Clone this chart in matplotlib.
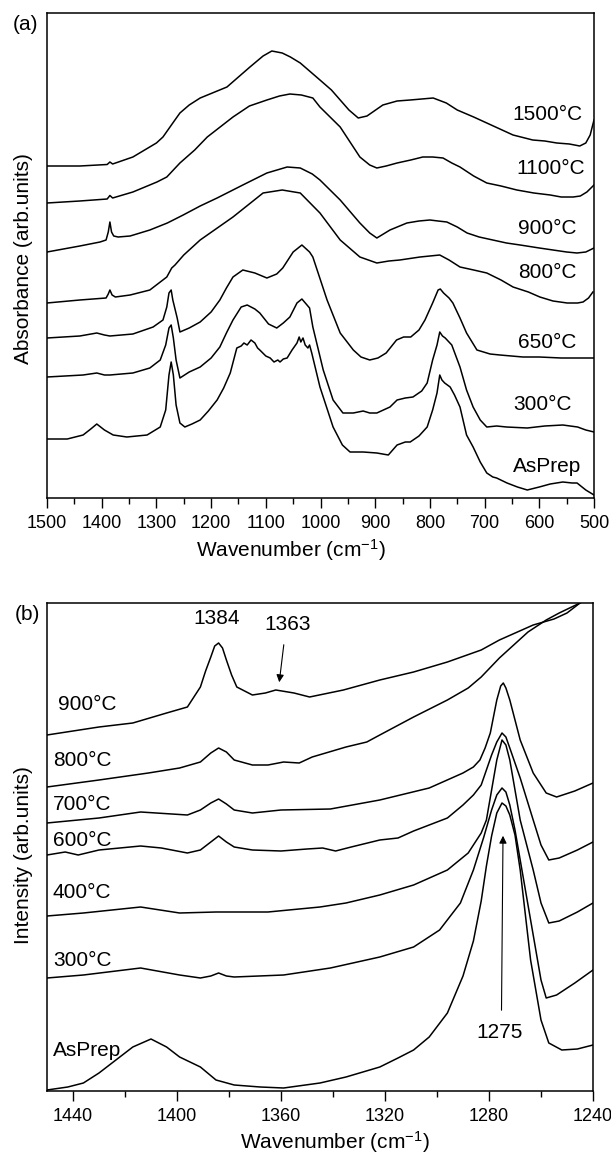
import matplotlib
matplotlib.use("Agg")
import matplotlib.pyplot as plt
from matplotlib.ticker import MultipleLocator

plt.rcParams['font.family'] = ['Liberation Sans', 'DejaVu Sans']
plt.rcParams['mathtext.fontset'] = 'custom'
plt.rcParams['mathtext.rm'] = 'Liberation Sans'
plt.rcParams['mathtext.default'] = 'regular'

# ---- panel (a): FTIR absorbance, 1500-500 cm-1 ----
wn_1500 = [1500, 1440, 1390, 1385, 1380, 1343, 1300, 1288, 1270, 1257, 1240, 1220, 1171, 1129, 1105,
           1089, 1070, 1055, 1037, 1001, 980, 964, 948, 931, 915, 886, 860, 836, 794, 770, 750, 720,
           696, 648, 612, 590, 568, 545, 526, 515, 507, 500]
a_1500 = [3.32, 3.32, 3.335, 3.36, 3.34, 3.41, 3.55, 3.61, 3.75, 3.85, 3.93, 4.00, 4.11, 4.31, 4.42,
          4.47, 4.45, 4.41, 4.35, 4.18, 4.08, 3.98, 3.88, 3.80, 3.82, 3.93, 3.97, 3.98, 4.00, 3.95, 3.88,
          3.81, 3.75, 3.63, 3.58, 3.57, 3.55, 3.54, 3.52, 3.55, 3.63, 3.78]

wn_1100 = [1500, 1440, 1390, 1385, 1380, 1343, 1299, 1281, 1257, 1230, 1207, 1160, 1130, 1098, 1075,
           1056, 1035, 1014, 1001, 964, 928, 910, 897, 880, 860, 835, 813, 795, 776, 760, 745, 720,
           696, 670, 641, 610, 580, 560, 538, 525, 513, 500]
a_1100 = [2.95, 2.97, 2.99, 3.025, 3.00, 3.06, 3.16, 3.21, 3.35, 3.48, 3.61, 3.81, 3.92, 3.98, 4.02,
          4.04, 4.03, 4.00, 3.91, 3.71, 3.41, 3.33, 3.30, 3.32, 3.35, 3.38, 3.41, 3.41, 3.40, 3.35, 3.31,
          3.22, 3.15, 3.12, 3.08, 3.05, 3.03, 3.01, 3.01, 3.02, 3.06, 3.13]

wn_900 = [1500, 1440, 1403, 1392, 1388, 1385, 1382, 1378, 1370, 1348, 1312, 1280, 1251, 1220, 1189,
          1142, 1098, 1061, 1037, 1015, 1001, 964, 928, 910, 897, 885, 873, 842, 820, 800, 785, 769,
          750, 732, 710, 685, 660, 635, 600, 575, 550, 531, 515, 500]
a_900 = [2.46, 2.52, 2.56, 2.58, 2.66, 2.76, 2.66, 2.62, 2.61, 2.62, 2.68, 2.75, 2.83, 2.92, 3.00,
         3.13, 3.25, 3.31, 3.30, 3.24, 3.18, 2.98, 2.75, 2.65, 2.60, 2.64, 2.68, 2.75, 2.77, 2.78, 2.77,
         2.76, 2.71, 2.65, 2.61, 2.58, 2.55, 2.53, 2.50, 2.48, 2.46, 2.45, 2.46, 2.50]

wn_800 = [1500, 1440, 1392, 1388, 1385, 1381, 1375, 1348, 1312, 1281, 1272, 1266, 1250, 1220, 1160,
          1105, 1070, 1037, 1001, 964, 928, 897, 875, 855, 818, 800, 782, 765, 745, 720, 696, 670,
          648, 620, 599, 575, 549, 530, 520, 510, 502]
a_800 = [1.95, 1.98, 2.00, 2.04, 2.08, 2.03, 2.01, 2.03, 2.08, 2.21, 2.30, 2.33, 2.43, 2.58, 2.81,
         3.05, 3.08, 3.05, 2.85, 2.58, 2.41, 2.35, 2.37, 2.38, 2.41, 2.42, 2.43, 2.38, 2.31, 2.28, 2.25,
         2.18, 2.11, 2.06, 2.01, 1.97, 1.95, 1.95, 1.96, 2.00, 2.06]

wn_650 = [1500, 1440, 1409, 1395, 1385, 1343, 1306, 1288, 1281, 1277, 1273, 1270, 1262, 1257, 1240,
          1220, 1200, 1184, 1172, 1160, 1142, 1120, 1098, 1080, 1069, 1050, 1034, 1020, 1014, 988, 964,
          940, 926, 910, 895, 880, 861, 848, 835, 820, 809, 795, 785, 781, 775, 765, 758, 745, 733,
          714, 690, 672, 630, 600, 560, 500]
a_650 = [1.60, 1.62, 1.65, 1.63, 1.62, 1.64, 1.71, 1.78, 1.91, 2.05, 2.08, 1.98, 1.80, 1.66, 1.70,
         1.76, 1.86, 1.98, 2.10, 2.21, 2.28, 2.25, 2.20, 2.24, 2.30, 2.46, 2.53, 2.46, 2.41, 1.98, 1.65,
         1.48, 1.41, 1.38, 1.40, 1.45, 1.58, 1.61, 1.61, 1.68, 1.78, 1.95, 2.08, 2.09, 2.05, 2.00, 1.95,
         1.80, 1.65, 1.48, 1.44, 1.43, 1.41, 1.41, 1.40, 1.40]

wn_300 = [1500, 1434, 1409, 1395, 1385, 1343, 1312, 1293, 1283, 1277, 1273, 1269, 1264, 1257, 1240,
          1220, 1200, 1184, 1172, 1160, 1145, 1134, 1120, 1111, 1095, 1080, 1068, 1056, 1043, 1034,
          1020, 1014, 995, 977, 959, 940, 922, 910, 897, 873, 860, 845, 831, 815, 805, 795, 787, 782,
          777, 772, 760, 745, 733, 721, 708, 696, 678, 660, 622, 590, 557, 530, 515, 500]
a_300 = [1.21, 1.23, 1.25, 1.23, 1.23, 1.25, 1.30, 1.38, 1.53, 1.70, 1.73, 1.60, 1.38, 1.20, 1.26,
         1.31, 1.40, 1.51, 1.65, 1.78, 1.91, 1.93, 1.89, 1.85, 1.74, 1.70, 1.75, 1.81, 1.95, 1.99,
         1.90, 1.71, 1.28, 0.98, 0.85, 0.85, 0.87, 0.85, 0.85, 0.91, 0.98, 1.00, 1.01, 1.07, 1.15,
         1.38, 1.53, 1.66, 1.62, 1.60, 1.53, 1.31, 1.08, 0.91, 0.78, 0.71, 0.72, 0.71, 0.70, 0.72,
         0.73, 0.71, 0.68, 0.66]

wn_asp = [1500, 1463, 1434, 1420, 1409, 1395, 1379, 1354, 1317, 1293, 1283, 1277, 1273, 1269, 1264,
          1257, 1248, 1235, 1220, 1205, 1189, 1177, 1165, 1153, 1145, 1140, 1134, 1127, 1120, 1115,
          1111, 1100, 1092, 1085, 1078, 1074, 1068, 1061, 1052, 1043, 1039, 1036, 1032, 1028, 1023,
          1020, 1016, 1001, 977, 960, 946, 922, 897, 876, 860, 845, 836, 820, 805, 795, 787, 782,
          778, 773, 763, 755, 745, 733, 721, 708, 696, 685, 678, 659, 640, 622, 600, 580, 557, 540,
          531, 515, 500]
a_asp = [0.59, 0.59, 0.63, 0.69, 0.74, 0.68, 0.63, 0.61, 0.63, 0.71, 0.88, 1.23, 1.36, 1.23, 0.93,
         0.75, 0.71, 0.74, 0.78, 0.87, 0.98, 1.10, 1.25, 1.50, 1.52, 1.55, 1.53, 1.58, 1.55, 1.50,
         1.48, 1.42, 1.40, 1.36, 1.38, 1.36, 1.39, 1.40, 1.48, 1.55, 1.61, 1.56, 1.60, 1.53, 1.50,
         1.53, 1.45, 1.11, 0.71, 0.53, 0.46, 0.46, 0.45, 0.43, 0.53, 0.56, 0.56, 0.62, 0.71, 0.88,
         1.05, 1.23, 1.18, 1.15, 1.11, 1.03, 0.91, 0.63, 0.51, 0.36, 0.25, 0.21, 0.20, 0.15, 0.11,
         0.08, 0.11, 0.14, 0.16, 0.15, 0.15, 0.08, 0.03]

labels_a = ['1500°C', '1100°C', '900°C', '800°C', '650°C', '300°C', 'AsPrep']
curves_a = [(wn_1500, a_1500), (wn_1100, a_1100), (wn_900, a_900), (wn_800, a_800),
            (wn_650, a_650), (wn_300, a_300), (wn_asp, a_asp)]

# ---- panel (b): zoom 1450-1240 cm-1 ----
wn_b900 = [1450, 1440, 1430, 1417, 1404, 1396, 1391, 1389, 1387, 1385.5, 1384, 1382.5, 1381, 1379,
           1377, 1371, 1366, 1362, 1355, 1349, 1336, 1322, 1309, 1296, 1283, 1276, 1263, 1255, 1250,
           1245, 1240]
i_b900 = [3.56, 3.60, 3.64, 3.68, 3.78, 3.84, 4.04, 4.20, 4.34, 4.45, 4.48, 4.43, 4.31, 4.16,
          4.04, 3.96, 3.98, 4.01, 3.98, 3.94, 4.01, 4.11, 4.19, 4.29, 4.41, 4.51, 4.66, 4.72, 4.78,
          4.88, 4.99]

wn_b800 = [1450, 1430, 1411, 1399, 1391, 1387, 1384, 1381, 1378, 1371, 1365, 1359, 1353, 1348, 1335,
           1327, 1322, 1309, 1296, 1288, 1283, 1276, 1265, 1258, 1253, 1245, 1240]
i_b800 = [3.04, 3.11, 3.18, 3.23, 3.29, 3.38, 3.43, 3.39, 3.31, 3.26, 3.26, 3.29, 3.28, 3.34, 3.44,
          3.49, 3.56, 3.74, 3.91, 4.03, 4.14, 4.33, 4.59, 4.71, 4.78, 4.88, 4.95]

wn_b700 = [1450, 1430, 1414, 1396, 1391, 1387, 1384, 1381, 1378, 1371, 1360, 1341, 1322, 1303, 1290,
           1286, 1283.5, 1281.5, 1279.5, 1277, 1275.5, 1274.5, 1273.5, 1272, 1268, 1263, 1258, 1254,
           1247, 1240]
i_b700 = [2.68, 2.73, 2.79, 2.76, 2.81, 2.88, 2.92, 2.87, 2.81, 2.78, 2.81, 2.82, 2.91, 3.03, 3.18,
          3.24, 3.31, 3.43, 3.58, 3.91, 4.05, 4.08, 4.03, 3.91, 3.51, 3.18, 2.98, 2.94, 3.00, 3.08]

wn_b600 = [1450, 1443, 1438, 1430, 1414, 1406, 1396, 1391, 1387, 1384, 1381, 1378, 1371, 1360, 1350,
           1344, 1339, 1333, 1322, 1315, 1309, 1296, 1290, 1286, 1283, 1281, 1279, 1277, 1275, 1273.5,
           1272, 1268, 1263, 1260, 1257, 1253, 1246, 1240]
i_b600 = [2.36, 2.39, 2.36, 2.41, 2.45, 2.43, 2.38, 2.41, 2.49, 2.55, 2.49, 2.44, 2.41, 2.40, 2.42,
          2.43, 2.40, 2.44, 2.51, 2.53, 2.60, 2.73, 2.86, 2.96, 3.06, 3.21, 3.36, 3.49, 3.58, 3.54,
          3.43, 3.13, 2.71, 2.46, 2.31, 2.33, 2.41, 2.49]

wn_b400 = [1450, 1436, 1414, 1399, 1385, 1365, 1345, 1335, 1322, 1309, 1296, 1288, 1283, 1281, 1279,
           1277, 1275, 1273.5, 1272, 1268, 1263, 1260, 1257, 1253, 1246, 1240]
i_b400 = [1.75, 1.78, 1.84, 1.78, 1.79, 1.79, 1.84, 1.88, 1.96, 2.06, 2.21, 2.38, 2.58, 2.71, 3.01,
          3.31, 3.51, 3.46, 3.31, 2.71, 2.21, 1.88, 1.68, 1.70, 1.79, 1.88]

wn_b300 = [1450, 1436, 1414, 1399, 1391, 1387, 1384, 1381, 1378, 1359, 1341, 1322, 1309, 1299, 1291,
           1286, 1282, 1279, 1277, 1275, 1273.5, 1272, 1270, 1264, 1260, 1258, 1254, 1247, 1240]
i_b300 = [1.13, 1.16, 1.23, 1.16, 1.13, 1.15, 1.18, 1.15, 1.14, 1.16, 1.23, 1.34, 1.44, 1.61, 1.88,
          2.21, 2.54, 2.81, 2.96, 3.03, 2.99, 2.86, 2.61, 1.71, 1.11, 0.93, 0.96, 1.08, 1.21]

wn_basp = [1450, 1442, 1436, 1430, 1422, 1417, 1410, 1404, 1399, 1391, 1385, 1378, 1368, 1359, 1345,
           1335, 1322, 1315, 1309, 1303, 1296, 1290, 1286, 1283, 1281, 1279, 1277, 1275, 1273.5, 1272,
           1270, 1268, 1264, 1260, 1257, 1252, 1246, 1240]
i_basp = [0.01, 0.04, 0.08, 0.18, 0.34, 0.44, 0.52, 0.44, 0.34, 0.24, 0.11, 0.06, 0.04, 0.03, 0.08,
          0.14, 0.24, 0.33, 0.41, 0.54, 0.78, 1.15, 1.50, 1.90, 2.25, 2.55, 2.78, 2.88, 2.85, 2.76,
          2.56, 2.21, 1.31, 0.71, 0.48, 0.41, 0.42, 0.46]

labels_b = ['900°C', '800°C', '700°C', '600°C', '400°C', '300°C', 'AsPrep']
curves_b = [(wn_b900, i_b900), (wn_b800, i_b800), (wn_b700, i_b700), (wn_b600, i_b600),
            (wn_b400, i_b400), (wn_b300, i_b300), (wn_basp, i_basp)]

# label anchor points (x, y in data coords)
pos_a = [(650, 3.83), (641, 3.30), (639, 2.70), (639, 2.26), (639, 1.55), (648, 0.93), (648, 0.32)]
pos_b = [(1445.8, 3.86), (1447.7, 3.31), (1447.7, 2.86), (1447.7, 2.51), (1447.7, 1.99),
         (1447.7, 1.31), (1447.7, 0.41)]

W, H = 611, 1153
fig = plt.figure(figsize=(W / 100, H / 100), dpi=100)
ax1 = fig.add_axes([47 / W, 1 - 498 / H, 547 / W, 485 / H])
ax2 = fig.add_axes([47 / W, 1 - 1091 / H, 546 / W, 488 / H])

for ax in (ax1, ax2):
    for s in ax.spines.values():
        s.set_linewidth(1.1)
    ax.tick_params(axis='x', which='major', direction='out', length=7, width=1.0,
                   labelsize=13, pad=5, top=False)
    ax.tick_params(axis='x', which='minor', direction='out', length=4, width=1.0, top=False)
    ax.tick_params(axis='y', which='both', left=False, right=False, labelleft=False)

for (x, y), lab, p in zip(curves_a, labels_a, pos_a):
    ax1.plot(x, y, color='black', lw=1.1, solid_joinstyle='round')
    ax1.text(p[0], p[1], lab, fontsize=15, ha='left', va='center')
ax1.set_xlim(1500, 500)
ax1.set_ylim(0, 4.85)
ax1.xaxis.set_major_locator(MultipleLocator(100))
ax1.xaxis.set_minor_locator(MultipleLocator(50))

for (x, y), lab, p in zip(curves_b, labels_b, pos_b):
    ax2.plot(x, y, color='black', lw=1.1, solid_joinstyle='round')
    ax2.text(p[0], p[1], lab, fontsize=15, ha='left', va='center')
ax2.set_xlim(1450, 1240)
ax2.set_ylim(0, 4.88)
ax2.set_xticks([1440, 1400, 1360, 1320, 1280, 1240])
ax2.xaxis.set_minor_locator(MultipleLocator(20))

ax2.text(1384.6, 4.72, '1384', fontsize=15, ha='center', va='center')
ax2.text(1357.3, 4.67, '1363', fontsize=15, ha='center', va='center')
ax2.annotate('', xy=(1360.8, 4.06), xytext=(1358.8, 4.49),
             arrowprops=dict(arrowstyle='-|>', color='black', lw=0.8, mutation_scale=11))
ax2.text(1275.8, 0.58, '1275', fontsize=15, ha='center', va='center')
ax2.annotate('', xy=(1274.6, 2.58), xytext=(1275.2, 0.78),
             arrowprops=dict(arrowstyle='-|>', color='black', lw=0.8, mutation_scale=11))

fig.text(291 / W, 1 - 550 / H, 'Wavenumber (cm$^{-1}$)', fontsize=15, ha='center', va='center')
fig.text(335 / W, 1 - 1142 / H, 'Wavenumber (cm$^{-1}$)', fontsize=15, ha='center', va='center')
fig.text(24 / W, 1 - 259 / H, 'Absorbance (arb.units)', fontsize=15, rotation=90,
         ha='center', va='center')
fig.text(24 / W, 1 - 855 / H, 'Intensity (arb.units)', fontsize=15, rotation=90,
         ha='center', va='center')
fig.text(26 / W, 1 - 25 / H, '(a)', fontsize=15, ha='center', va='center')
fig.text(27 / W, 1 - 615 / H, '(b)', fontsize=15, ha='center', va='center')

fig.savefig('out.png', dpi=100)
